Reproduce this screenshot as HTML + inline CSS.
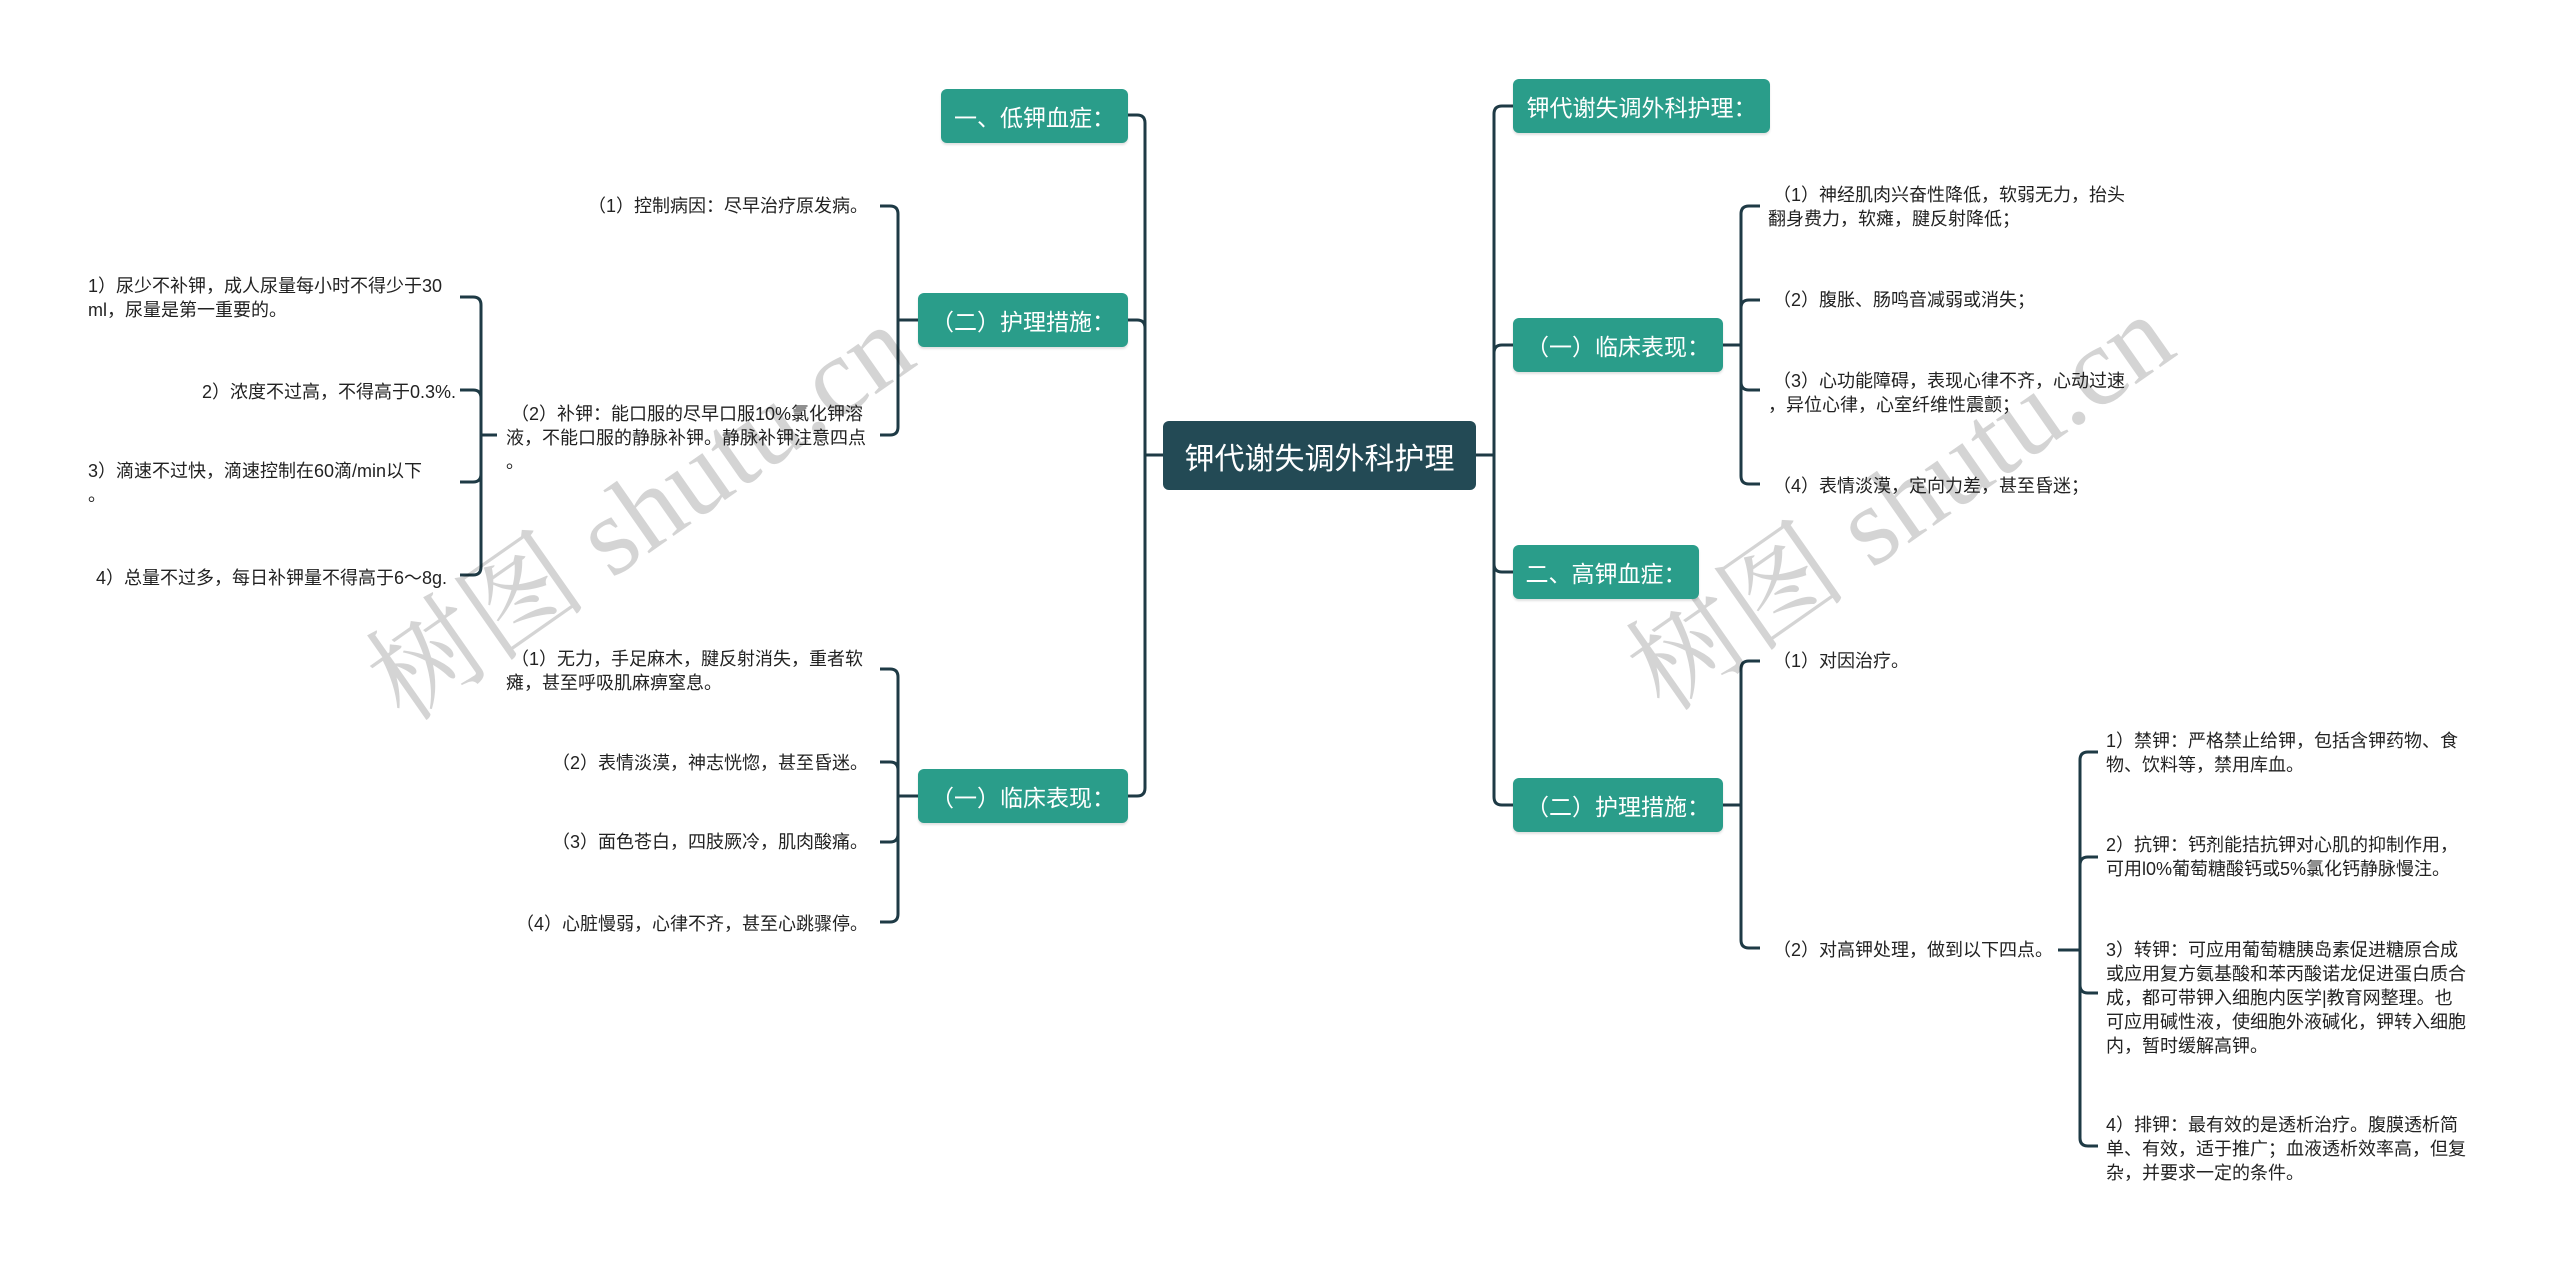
<!DOCTYPE html>
<html><head><meta charset="utf-8">
<style>
body{margin:0;width:2560px;height:1273px;background:#fff;position:relative;overflow:hidden;font-family:"Liberation Sans","Noto Sans CJK SC",sans-serif;}
.t{position:absolute;font-size:18px;line-height:24px;color:#222;white-space:nowrap;}
.r{text-align:right;}
.n{position:absolute;background:#2a9d8a;color:#fff;border-radius:6px;font-size:23px;display:flex;align-items:center;justify-content:center;white-space:nowrap;box-shadow:0 2px 2px rgba(0,0,0,0.12);}
.root{position:absolute;background:#234a55;color:#fff;border-radius:6px;font-size:30px;display:flex;align-items:center;justify-content:center;white-space:nowrap;}
.wm{position:absolute;font-family:"Liberation Serif","Noto Serif CJK SC",serif;font-size:112px;color:rgba(0,0,0,0.17);white-space:nowrap;transform:translate(-50%,-50%) rotate(-35deg);}
</style></head><body>
<svg width="2560" height="1273" style="position:absolute;left:0;top:0" fill="none" stroke="#1e3a45" stroke-width="3">
<path d="M1163 455H1145"/>
<path d="M1145 455V123Q1145 115 1137 115H1128"/>
<path d="M1145 455V328Q1145 320 1137 320H1128"/>
<path d="M1145 455V788Q1145 796 1137 796H1128"/>
<path d="M1476 455H1494"/>
<path d="M1494 455V114Q1494 106 1502 106H1513"/>
<path d="M1494 455V353Q1494 345 1502 345H1513"/>
<path d="M1494 455V564Q1494 572 1502 572H1513"/>
<path d="M1494 455V797Q1494 805 1502 805H1513"/>
<path d="M918 320H898"/>
<path d="M898 320V214Q898 206 890 206H880"/>
<path d="M898 320V427Q898 435 890 435H880"/>
<path d="M497 435H481"/>
<path d="M481 435V305Q481 297 473 297H460"/>
<path d="M481 435V398Q481 390 473 390H460"/>
<path d="M481 435V474Q481 482 473 482H460"/>
<path d="M481 435V567Q481 575 473 575H460"/>
<path d="M918 796H898"/>
<path d="M898 796V677Q898 669 890 669H880"/>
<path d="M898 796V770Q898 762 890 762H880"/>
<path d="M898 796V834Q898 842 890 842H880"/>
<path d="M898 796V914Q898 922 890 922H880"/>
<path d="M1723 345H1741"/>
<path d="M1741 345V214Q1741 206 1749 206H1760"/>
<path d="M1741 345V308Q1741 300 1749 300H1760"/>
<path d="M1741 345V382Q1741 390 1749 390H1760"/>
<path d="M1741 345V476Q1741 484 1749 484H1760"/>
<path d="M1723 805H1741"/>
<path d="M1741 805V669Q1741 661 1749 661H1760"/>
<path d="M1741 805V940Q1741 948 1749 948H1760"/>
<path d="M2058 950H2080"/>
<path d="M2080 950V760Q2080 752 2088 752H2098"/>
<path d="M2080 950V865Q2080 857 2088 857H2098"/>
<path d="M2080 950V985Q2080 993 2088 993H2098"/>
<path d="M2080 950V1138Q2080 1146 2088 1146H2098"/>
</svg>

<div class="wm" style="left:635px;top:505px">树图 shutu.cn</div>
<div class="wm" style="left:1895px;top:495px">树图 shutu.cn</div>

<div class="root" style="left:1163px;top:421px;width:313px;height:69px">钾代谢失调外科护理</div>

<div class="n" style="left:941px;top:89px;width:187px;height:54px">一、低钾血症：</div>
<div class="n" style="left:918px;top:293px;width:210px;height:54px">（二）护理措施：</div>
<div class="n" style="left:918px;top:769px;width:210px;height:54px">（一）临床表现：</div>

<div class="n" style="left:1513px;top:79px;width:257px;height:54px">钾代谢失调外科护理：</div>
<div class="n" style="left:1513px;top:318px;width:210px;height:54px">（一）临床表现：</div>
<div class="n" style="left:1513px;top:545px;width:186px;height:54px">二、高钾血症：</div>
<div class="n" style="left:1513px;top:778px;width:210px;height:54px">（二）护理措施：</div>

<div class="t r" style="right:1692px;top:194px">（1）控制病因：尽早治疗原发病。</div>
<div class="t" style="left:506px;top:402px">&nbsp;（2）补钾：能口服的尽早口服10%氯化钾溶<br>液，不能口服的静脉补钾。静脉补钾注意四点<br>。</div>
<div class="t" style="left:88px;top:274px">1）尿少不补钾，成人尿量每小时不得少于30<br>ml，尿量是第一重要的。</div>
<div class="t r" style="right:2104px;top:380px">2）浓度不过高，不得高于0.3%.</div>
<div class="t" style="left:88px;top:459px">3）滴速不过快，滴速控制在60滴/min以下<br>。</div>
<div class="t" style="left:96px;top:566px">4）总量不过多，每日补钾量不得高于6～8g.</div>

<div class="t" style="left:506px;top:647px">&nbsp;（1）无力，手足麻木，腱反射消失，重者软<br>瘫，甚至呼吸肌麻痹窒息。</div>
<div class="t r" style="right:1692px;top:751px">（2）表情淡漠，神志恍惚，甚至昏迷。</div>
<div class="t r" style="right:1692px;top:830px">（3）面色苍白，四肢厥冷，肌肉酸痛。</div>
<div class="t r" style="right:1692px;top:912px">（4）心脏慢弱，心律不齐，甚至心跳骤停。</div>

<div class="t" style="left:1768px;top:183px">&nbsp;（1）神经肌肉兴奋性降低，软弱无力，抬头<br>翻身费力，软瘫，腱反射降低；</div>
<div class="t" style="left:1768px;top:288px">&nbsp;（2）腹胀、肠鸣音减弱或消失；</div>
<div class="t" style="left:1768px;top:369px">&nbsp;（3）心功能障碍，表现心律不齐，心动过速<br>，异位心律，心室纤维性震颤；</div>
<div class="t" style="left:1768px;top:474px">&nbsp;（4）表情淡漠，定向力差，甚至昏迷；</div>

<div class="t" style="left:1768px;top:649px">&nbsp;（1）对因治疗。</div>
<div class="t" style="left:1768px;top:938px">&nbsp;（2）对高钾处理，做到以下四点。</div>

<div class="t" style="left:2106px;top:729px">1）禁钾：严格禁止给钾，包括含钾药物、食<br>物、饮料等，禁用库血。</div>
<div class="t" style="left:2106px;top:833px">2）抗钾：钙剂能拮抗钾对心肌的抑制作用，<br>可用l0%葡萄糖酸钙或5%氯化钙静脉慢注。</div>
<div class="t" style="left:2106px;top:938px">3）转钾：可应用葡萄糖胰岛素促进糖原合成<br>或应用复方氨基酸和苯丙酸诺龙促进蛋白质合<br>成，都可带钾入细胞内医学|教育网整理。也<br>可应用碱性液，使细胞外液碱化，钾转入细胞<br>内，暂时缓解高钾。</div>
<div class="t" style="left:2106px;top:1113px">4）排钾：最有效的是透析治疗。腹膜透析简<br>单、有效，适于推广；血液透析效率高，但复<br>杂，并要求一定的条件。</div>
</body></html>
